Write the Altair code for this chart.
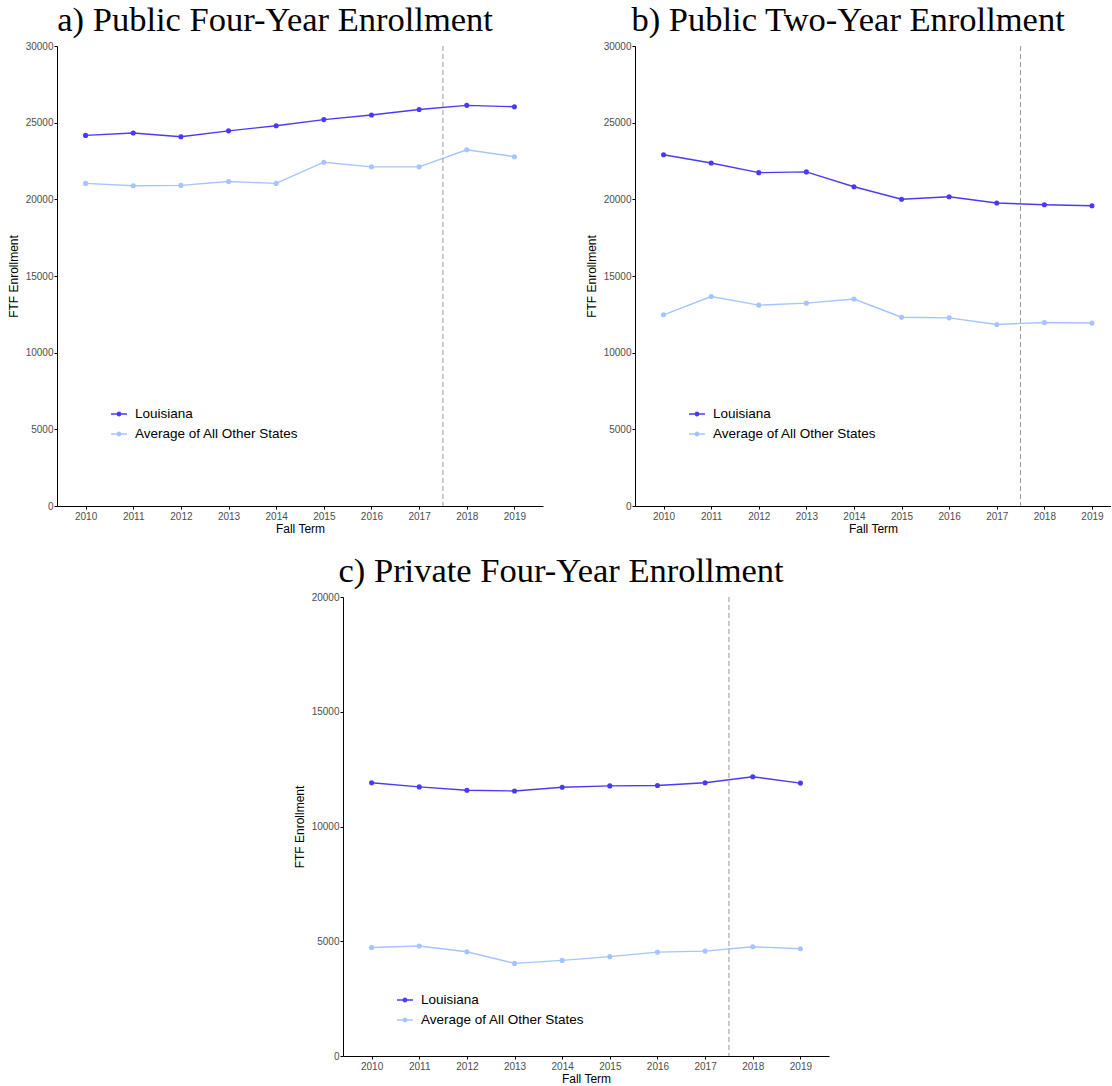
import altair as alt
import pandas as pd

years = list(range(2010, 2020))
series_names = ["Louisiana", "Average of All Other States"]

pub4_la = [24170, 24330, 24080, 24465, 24800, 25200, 25500, 25860, 26130, 26040]
pub4_avg = [21040, 20890, 20910, 21160, 21040, 22420, 22120, 22120, 23230, 22780]
pub2_la = [22910, 22370, 21740, 21790, 20820, 20010, 20170, 19760, 19650, 19580]
pub2_avg = [12470, 13660, 13100, 13230, 13500, 12310, 12270, 11840, 11970, 11930]
priv4_la = [11905, 11725, 11580, 11550, 11710, 11770, 11785, 11905, 12170, 11890]
priv4_avg = [4730, 4790, 4540, 4035, 4165, 4330, 4525, 4570, 4760, 4675]

colors = ["#4A3AF8", "#A6C4FF"]
LEGEND_PATH = ("M-1,-0.09 L1,-0.09 L1,0.09 L-1,0.09 Z "
               "M0.3,0 A0.3,0.3 0 1 1 -0.3,0 A0.3,0.3 0 1 1 0.3,0 Z")
SANS = "Liberation Sans"
SERIF = "Liberation Serif"


def make_df(la, avg):
    return pd.DataFrame({
        "year": years * 2,
        "value": la + avg,
        "series": [series_names[0]] * len(years) + [series_names[1]] * len(years),
    })


def panel(title, la, avg, ymax, width, height, xmax, legend_y):
    df = make_df(la, avg)
    x = alt.X("year:Q",
              scale=alt.Scale(domain=[2009.4, xmax], nice=False, zero=False),
              axis=alt.Axis(values=years, format="d", title="Fall Term", grid=False,
                            labelPadding=2, titlePadding=2))
    y = alt.Y("value:Q",
              scale=alt.Scale(domain=[0, ymax], nice=False),
              axis=alt.Axis(values=list(range(0, ymax + 1, 5000)), format="d",
                            title="FTF Enrollment", grid=False, labelPadding=1,
                            titlePadding=5))
    cscale = alt.Scale(domain=series_names, range=colors)
    legend = alt.Legend(orient="none", legendX=54, legendY=legend_y,
                        title=None, symbolType=LEGEND_PATH, symbolSize=256,
                        symbolStrokeWidth=0, symbolOpacity=1,
                        labelFontSize=13.5, labelFont=SANS, labelLimit=400,
                        labelColor="black", rowPadding=5, labelOffset=8)
    color = alt.Color("series:N", scale=cscale, legend=legend)
    base = alt.Chart(df)
    pts = base.mark_point(filled=True, size=26, opacity=1).encode(x=x, y=y, color=color)
    line = base.mark_line(strokeWidth=1.4).encode(x=x, y=y, color=color)
    rule = alt.Chart(pd.DataFrame({"k": [0]})).mark_rule(
        color="#9A9A9A", strokeDash=[5, 3], strokeWidth=1).encode(x=alt.datum(2017.5))
    return alt.layer(pts, line, rule).properties(
        width=width, height=height,
        title=alt.TitleParams(title, font=SERIF, fontSize=34.5, fontWeight="normal",
                              color="black", anchor="middle", frame="bounds", offset=3))


pa = panel("a) Public Four-Year Enrollment", pub4_la, pub4_avg, 30000, 486, 460, 2019.6, 360)
pb = panel("b) Public Two-Year Enrollment", pub2_la, pub2_avg, 30000, 476, 460, 2019.4, 360)
pc = panel("c) Private Four-Year Enrollment", priv4_la, priv4_avg, 20000, 486, 459, 2019.6, 395)

spacer = alt.Chart(pd.DataFrame({"k": [0]})).mark_point(opacity=0).properties(
    width=236, height=10)

top = alt.hconcat(pa, pb, spacing=42).resolve_legend(color="independent")
bottom = alt.hconcat(spacer, pc, spacing=0).resolve_legend(color="independent")
chart = alt.vconcat(top, bottom, spacing=19).resolve_legend(
    color="independent"
).properties(
    padding={"left": 7, "top": 2, "right": 0, "bottom": 0}
).configure_view(stroke=None).configure_axis(
    domainColor="black", tickColor="black", domainWidth=1, tickWidth=1, tickSize=3,
    labelColor="#4D4D4D", labelFontSize=10, labelFont=SANS,
    titleFont=SANS, titleFontSize=12, titleFontWeight="normal", titleColor="black"
)

chart.save("out.html", embed_options={"renderer": "svg", "actions": False})
